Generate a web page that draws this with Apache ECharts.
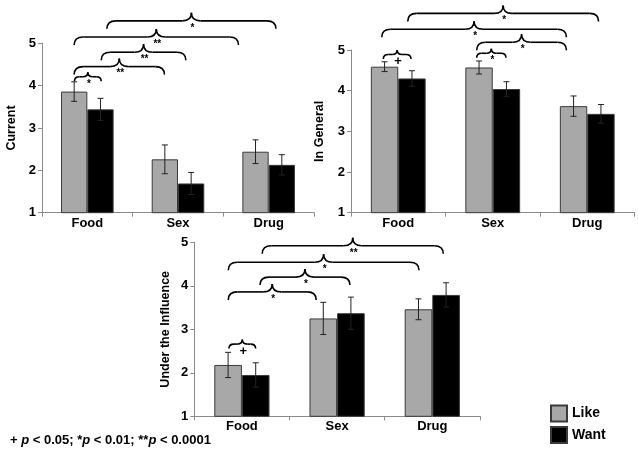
<!DOCTYPE html>
<html>
<head>
<meta charset="utf-8">
<script src="https://cdn.jsdelivr.net/npm/echarts@6/dist/echarts.min.js"></script>
<style>
html,body{margin:0;padding:0;background:#fff;}
#chart{width:638px;height:454px;}
</style>
</head>
<body>
<div id="chart"></div>
<script>
// ---- data ----
const categories = ['Food', 'Sex', 'Drug'];
const seriesNames = ['Like', 'Want'];
const panelTitles = ['Current', 'In General', 'Under the Influence'];
const yTicks = [1, 2, 3, 4, 5];

const currentLike = [3.86, 2.26, 2.44];
const currentLikeErr = [0.23, 0.34, 0.28];
const currentWant = [3.44, 1.69, 2.13];
const currentWantErr = [0.26, 0.26, 0.24];

const generalLike = [4.59, 4.57, 3.62];
const generalLikeErr = [0.12, 0.16, 0.25];
const generalWant = [4.30, 4.04, 3.43];
const generalWantErr = [0.19, 0.18, 0.23];

const influenceLike = [2.18, 3.25, 3.46];
const influenceLikeErr = [0.29, 0.37, 0.24];
const influenceWant = [1.95, 3.37, 3.79];
const influenceWantErr = [0.28, 0.37, 0.28];

// significance braces: [from (category units, 0..3), to, level on y scale]
const currentBraces = [[0.358, 0.653, 4.21], [0.355, 1.35, 4.45], [0.653, 1.587, 4.79], [0.355, 2.167, 5.15], [0.716, 2.58, 5.53]];
const currentBraceLabels = ['*', '**', '**', '**', '*'];
const generalBraces = [[0.342, 0.635, 4.89], [1.33, 1.64, 4.92], [1.33, 2.28, 5.19], [0.325, 2.28, 5.51], [0.6, 2.62, 5.90]];
const generalBraceLabels = ['+', '*', '*', '*', '*'];
const influenceBraces = [[0.364, 0.644, 2.66], [0.357, 1.28, 3.86], [0.69, 1.635, 4.20], [0.357, 2.36, 4.54], [0.714, 2.615, 4.92]];
const influenceBraceLabels = ['+', '*', '*', '*', '**'];

const footnote = ['+ ', 'p', ' < 0.05; *', 'p', ' < 0.01; **', 'p', ' < 0.0001'];

// ---- styles ----
const FONT = 'Liberation Sans, Arial, sans-serif';
const colors = ['#a8a8a8', '#000000'];
const panels = [
  { like: currentLike, likeErr: currentLikeErr, want: currentWant, wantErr: currentWantErr, braces: currentBraces, braceLabels: currentBraceLabels },
  { like: generalLike, likeErr: generalLikeErr, want: generalWant, wantErr: generalWantErr, braces: generalBraces, braceLabels: generalBraceLabels },
  { like: influenceLike, likeErr: influenceLikeErr, want: influenceWant, wantErr: influenceWantErr, braces: influenceBraces, braceLabels: influenceBraceLabels }
];
const grids = [
  { left: 42, top: 43.3, width: 272, height: 169.4 },
  { left: 351, top: 50, width: 283.5, height: 162.7 },
  { left: 194.3, top: 242.3, width: 285.6, height: 174 }
];
const nameGaps = [24, 25, 22];
const BAR_FRAC = 0.29; // bar width as fraction of band

const xAxes = [], yAxes = [], series = [];
panels.forEach((p, k) => {
  xAxes.push({
    type: 'category', gridIndex: k, data: categories,
    axisLine: { lineStyle: { color: '#8a8a8a', width: 1 } },
    axisTick: { show: true, length: 4, lineStyle: { color: '#8a8a8a' } },
    axisLabel: { color: '#000', fontFamily: FONT, fontWeight: 'bold', fontSize: 13, margin: 4 },
    splitLine: { show: false }
  });
  xAxes.push({ type: 'value', gridIndex: k, min: 0, max: 3, show: false });
  yAxes.push({
    type: 'value', gridIndex: k, min: yTicks[0], max: yTicks[yTicks.length - 1], interval: 1,
    name: panelTitles[k], nameLocation: 'middle', nameGap: nameGaps[k],
    nameTextStyle: { color: '#000', fontFamily: FONT, fontWeight: 'bold', fontSize: 12.5 },
    axisLine: { show: true, lineStyle: { color: '#8a8a8a', width: 1 } },
    axisTick: { show: true, length: 4, lineStyle: { color: '#8a8a8a' } },
    axisLabel: { color: '#000', fontFamily: FONT, fontWeight: 'bold', fontSize: 13, margin: 6 },
    splitLine: { show: false }
  });
  const vals = [p.like, p.want], errs = [p.likeErr, p.wantErr];
  vals.forEach((v, s) => {
    series.push({
      type: 'bar', name: seriesNames[s], xAxisIndex: 2 * k, yAxisIndex: k,
      data: v, barGap: '0%', barCategoryGap: '42%',
      itemStyle: { color: colors[s], borderColor: '#3a3a3a', borderWidth: 1 },
      emphasis: { disabled: true }, animation: false
    });
  });
  vals.forEach((v, s) => {
    series.push({
      type: 'custom', xAxisIndex: 2 * k, yAxisIndex: k, z: 5, silent: true, animation: false,
      data: v.map((val, i) => [i, val, errs[s][i]]),
      renderItem: function (params, api) {
        const i = api.value(0), val = api.value(1), e = api.value(2);
        const c = api.coord([i, val]);
        const band = api.size([1, 0])[0];
        const x = c[0] + (s === 0 ? -1 : 1) * band * BAR_FRAC / 2;
        const yt = api.coord([i, val + e])[1];
        const yb = api.coord([i, val - e])[1];
        const st = { stroke: '#222', lineWidth: 1 };
        return { type: 'group', children: [
          { type: 'line', shape: { x1: x, y1: yt, x2: x, y2: yb }, style: st },
          { type: 'line', shape: { x1: x - 3, y1: yt, x2: x + 3, y2: yt }, style: st },
          { type: 'line', shape: { x1: x - 3, y1: yb, x2: x + 3, y2: yb }, style: st }
        ] };
      }
    });
  });
  series.push({
    type: 'custom', xAxisIndex: 2 * k + 1, yAxisIndex: k, z: 6, silent: true, animation: false, clip: false,
    data: p.braces,
    encode: { x: [0, 1], y: 2 },
    renderItem: function (params, api) {
      const a = api.coord([api.value(0), api.value(2)]);
      const b = api.coord([api.value(1), api.value(2)]);
      const x1 = a[0], x2 = b[0], y0 = a[1], xm = (x1 + x2) / 2;
      const span = x2 - x1;
      const r = span < 45 ? 5 : 9;
      const d = span < 45 ? 4.5 : 8;
      const st = { stroke: '#000', lineWidth: 1.6, fill: null };
      const lab = p.braceLabels[params.dataIndex];
      const isPlus = lab === '+';
      return { type: 'group', children: [
        { type: 'bezierCurve', shape: { x1: x1, y1: y0 + d, cpx1: x1, cpy1: y0, x2: x1 + r, y2: y0 }, style: st },
        { type: 'line', shape: { x1: x1 + r, y1: y0, x2: xm - r, y2: y0 }, style: st },
        { type: 'bezierCurve', shape: { x1: xm - r, y1: y0, cpx1: xm, cpy1: y0, x2: xm, y2: y0 - d }, style: st },
        { type: 'bezierCurve', shape: { x1: xm + r, y1: y0, cpx1: xm, cpy1: y0, x2: xm, y2: y0 - d }, style: st },
        { type: 'line', shape: { x1: xm + r, y1: y0, x2: x2 - r, y2: y0 }, style: st },
        { type: 'bezierCurve', shape: { x1: x2, y1: y0 + d, cpx1: x2, cpy1: y0, x2: x2 - r, y2: y0 }, style: st },
        { type: 'text', style: {
            text: lab, x: xm + 1, y: isPlus ? y0 + 7 : y0 + 2,
            fill: '#000', font: (isPlus ? 'bold 13px ' : 'bold 10px ') + FONT,
            align: 'center', verticalAlign: isPlus ? 'middle' : 'top' } }
      ] };
    }
  });
});

const rich = { b: { fontFamily: FONT, fontWeight: 'bold', fontSize: 13, color: '#000' },
               i: { fontFamily: FONT, fontWeight: 'bold', fontStyle: 'italic', fontSize: 13, color: '#000' } };
const footText = footnote.map((t, i) => (i % 2 === 1 ? '{i|' : '{b|') + t + '}').join('');

const legendBase = {
  orient: 'vertical', left: 550, itemWidth: 16, itemHeight: 16, icon: 'rect', padding: 0,
  textStyle: { color: '#000', fontFamily: FONT, fontWeight: 'bold', fontSize: 14 },
  selectedMode: false
};

const chart = echarts.init(document.getElementById('chart'), null, { renderer: 'canvas' });
chart.setOption({
  animation: false,
  backgroundColor: '#fff',
  grid: grids,
  xAxis: xAxes,
  yAxis: yAxes,
  legend: [
    Object.assign({}, legendBase, { data: [seriesNames[0]], top: 404.5 }),
    Object.assign({}, legendBase, { data: [seriesNames[1]], top: 426 })
  ],
  graphic: [{
    type: 'text', left: 10, top: 434,
    style: { text: footText, rich: rich }
  }],
  series: series
});
</script>
</body>
</html>
